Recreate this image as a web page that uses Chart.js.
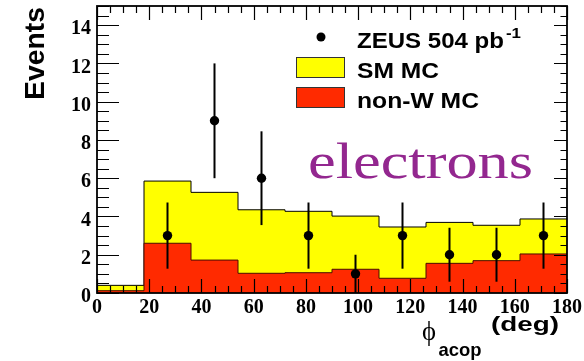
<!DOCTYPE html>
<html>
<head>
<meta charset="utf-8">
<script src="https://cdn.jsdelivr.net/npm/chart.js@4/dist/chart.umd.min.js"></script>
<style>
html,body{margin:0;padding:0;background:#fff;}
canvas{display:block;}
</style>
</head>
<body>
<canvas id="c" width="584" height="361"></canvas>
<script>
// ---- data ----
const binEdges = [0, 18, 36, 54, 72, 90, 108, 126, 144, 162, 180];
const smMC     = [0.40, 5.85, 5.26, 4.35, 4.27, 4.02, 3.45, 3.69, 3.54, 3.87];
const nonWMC   = [0.12, 2.60, 1.72, 1.03, 1.06, 1.24, 0.77, 1.55, 1.69, 2.04];
const dataX    = [27, 45, 63, 81, 99, 117, 135, 153, 171];
const dataY    = [3, 9, 6, 3, 1, 3, 2, 2, 3];
const dataErr  = [1.73, 3.0, 2.45, 1.73, 1.0, 1.73, 1.41, 1.41, 1.73];
const xTickValues = [0, 20, 40, 60, 80, 100, 120, 140, 160, 180];
const yTickValues = [0, 2, 4, 6, 8, 10, 12, 14];

function histPoints(vals) {
  return binEdges.map((x, i) => ({ x: x, y: i < vals.length ? vals[i] : vals[vals.length - 1] }));
}

function fitText(ctx, text, x, y, font, color, targetW) {
  ctx.save();
  ctx.font = font;
  ctx.fillStyle = color;
  ctx.textBaseline = 'alphabetic';
  ctx.textAlign = 'left';
  const w = ctx.measureText(text).width;
  const sx = targetW ? targetW / w : 1;
  ctx.translate(x, y);
  ctx.scale(sx, 1);
  ctx.fillText(text, 0, 0);
  ctx.restore();
}

const errorBars = {
  id: 'errorBars',
  beforeDatasetDraw(chart, args) {
    if (args.index !== 0) return;
    const ctx = chart.ctx, xs = chart.scales.x, ys = chart.scales.y;
    ctx.save();
    ctx.strokeStyle = '#000';
    ctx.lineWidth = 2;
    for (let i = 0; i < dataX.length; i++) {
      const px = xs.getPixelForValue(dataX[i]);
      const lo = Math.max(0, dataY[i] - dataErr[i]);
      const hi = dataY[i] + dataErr[i];
      ctx.beginPath();
      ctx.moveTo(px, ys.getPixelForValue(lo));
      ctx.lineTo(px, ys.getPixelForValue(hi));
      ctx.stroke();
    }
    ctx.restore();
  }
};

const frameAndText = {
  id: 'frameAndText',
  afterDraw(chart) {
    const ctx = chart.ctx, a = chart.chartArea, xs = chart.scales.x, ys = chart.scales.y;
    ctx.save();
    // ticks
    ctx.strokeStyle = '#000';
    ctx.lineWidth = 1.2;
    ctx.beginPath();
    for (let v = 0; v <= 180; v += 5) {
      const px = Math.round(xs.getPixelForValue(v)) + 0.5;
      const major = v % 20 === 0;
      const lb = major ? 14 : 7, lt = major ? 14 : 7;
      ctx.moveTo(px, a.bottom); ctx.lineTo(px, a.bottom - lb);
      ctx.moveTo(px, a.top); ctx.lineTo(px, a.top + lt);
    }
    for (let v = 0; v <= 15; v += 0.5) {
      const py = Math.round(ys.getPixelForValue(v)) + 0.5;
      const major = v % 2 === 0;
      const ll = major ? 22 : 12, lr = major ? 13 : 6.5;
      ctx.moveTo(a.left, py); ctx.lineTo(a.left + ll, py);
      ctx.moveTo(a.right, py); ctx.lineTo(a.right - lr, py);
    }
    ctx.stroke();
    // frame
    ctx.lineWidth = 1.8;
    ctx.strokeRect(a.left, a.top, a.right - a.left, a.bottom - a.top);

    // legend
    ctx.fillStyle = '#000';
    ctx.beginPath();
    ctx.arc(321, 37, 4.5, 0, Math.PI * 2);
    ctx.fill();
    fitText(ctx, 'ZEUS 504 pb', 357, 47.5, 'bold 22px "Liberation Sans", Arial, sans-serif', '#000', 147);
    fitText(ctx, '-1', 506, 38, 'bold 15px "Liberation Sans", Arial, sans-serif', '#000', 15);
    ctx.lineWidth = 1;
    ctx.strokeStyle = '#333';
    ctx.fillStyle = '#ffff00';
    ctx.fillRect(296.5, 57.5, 48, 20);
    ctx.strokeRect(296.5, 57.5, 48, 20);
    fitText(ctx, 'SM MC', 357, 77.5, 'bold 22px "Liberation Sans", Arial, sans-serif', '#000', 82);
    ctx.fillStyle = '#ff2a00';
    ctx.fillRect(296.5, 87.5, 48, 20);
    ctx.strokeRect(296.5, 87.5, 48, 20);
    fitText(ctx, 'non-W MC', 357, 107.5, 'bold 22px "Liberation Sans", Arial, sans-serif', '#000', 122);

    // label
    fitText(ctx, 'electrons', 308, 177.7, '51px "Liberation Serif", "Times New Roman", serif', '#93278f', 225);

    // axis titles
    ctx.save();
    ctx.translate(44, 100);
    ctx.rotate(-Math.PI / 2);
    fitText(ctx, 'Events', 0, 0, 'bold 28px "Liberation Sans", Arial, sans-serif', '#000', 93);
    ctx.restore();
    fitText(ctx, '\u03d5', 422, 340, '28px "Liberation Serif", "DejaVu Serif", serif', '#000', 14);
    fitText(ctx, 'acop', 438.5, 355.5, 'bold 19px "Liberation Sans", Arial, sans-serif', '#000', 43);
    fitText(ctx, '(deg)', 491, 331, 'bold 21px "Liberation Sans", Arial, sans-serif', '#000', 68);
    ctx.restore();
  }
};

const tickFont = { family: '"Liberation Serif", "Times New Roman", serif', size: 20, weight: 'bold' };

const chart = new Chart(document.getElementById('c'), {
  type: 'line',
  data: {
    datasets: [
      {
        type: 'scatter',
        label: 'ZEUS 504 pb-1',
        data: dataX.map((x, i) => ({ x: x, y: dataY[i] })),
        pointRadius: 4.7,
        pointBackgroundColor: '#000',
        pointBorderColor: '#000',
        pointBorderWidth: 0,
        showLine: false,
        order: 0
      },
      {
        label: 'non-W MC',
        data: histPoints(nonWMC),
        stepped: true,
        fill: 'origin',
        backgroundColor: '#ff2a00',
        borderColor: '#4a0d00',
        borderWidth: 1,
        pointRadius: 0,
        tension: 0,
        order: 1
      },
      {
        label: 'SM MC',
        data: histPoints(smMC),
        stepped: true,
        fill: 'origin',
        backgroundColor: '#ffff00',
        borderColor: '#000',
        borderWidth: 1,
        pointRadius: 0,
        tension: 0,
        order: 2
      }
    ]
  },
  options: {
    responsive: false,
    animation: false,
    devicePixelRatio: 1,
    layout: { padding: { top: 6, right: 17, left: 0, bottom: 0 } },
    plugins: { legend: { display: false }, tooltip: { enabled: false } },
    scales: {
      x: {
        type: 'linear',
        min: 0, max: 180,
        afterBuildTicks: s => { s.ticks = xTickValues.map(v => ({ value: v })); },
        afterFit: s => { s.height = 68; s.paddingLeft = 0; s.paddingRight = 0; },
        grid: { display: false, drawTicks: false },
        border: { display: false },
        ticks: { font: tickFont, color: '#000', padding: 3, maxRotation: 0, autoSkip: false }
      },
      y: {
        type: 'linear',
        min: 0, max: 15,
        afterBuildTicks: s => { s.ticks = yTickValues.map(v => ({ value: v })); },
        afterFit: s => { s.width = 97; s.paddingTop = 0; s.paddingBottom = 0; },
        grid: { display: false, drawTicks: false },
        border: { display: false },
        ticks: { font: tickFont, color: '#000', padding: 6, labelOffset: 4, autoSkip: false }
      }
    }
  },
  plugins: [errorBars, frameAndText]
});
</script>
</body>
</html>
